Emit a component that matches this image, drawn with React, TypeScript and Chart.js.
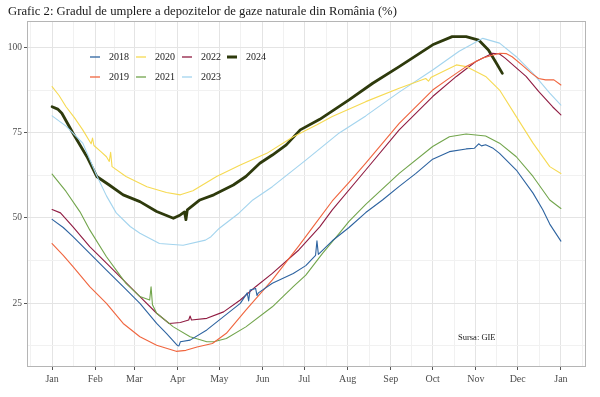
import { useEffect, useRef } from "react";
import { Chart, registerables } from "chart.js";
Chart.register(...registerables);

const titleText = "Grafic 2: Gradul de umplere a depozitelor de gaze naturale din România (%)";
const sourceText = "Sursa: GIE";
const monthBreaks = [0, 31, 59, 90, 120, 151, 181, 212, 243, 273, 304, 334, 365];
const monthLabels = ["Jan", "Feb", "Mar", "Apr", "May", "Jun", "Jul", "Aug", "Sep", "Oct", "Nov", "Dec", "Jan"];
const yBreaks = [25, 50, 75, 100];
const yMinorBreaks = [12.5, 37.5, 62.5, 87.5];
const years = ["2018", "2019", "2020", "2021", "2022", "2023", "2024"];

const s2018: [number, number][] = [[0,49.6],[8,47.2],[15,44.5],[27,39.6],[39,34.7],[51,29.8],[63,24.9],[75,19],[82,16.1],[90,12.5],[91,12.4],[92,13.6],[99,14.1],[111,17.1],[123,21],[135,24.9],[140,28],[141,25.6],[142,28.8],[146,29.3],[147,27.2],[148,28],[158,30.8],[173,33.7],[182,36],[189,39],[190,43.3],[191,39.3],[201,43.3],[213,47.2],[225,51.6],[237,55.3],[249,59.3],[261,63.1],[273,67.3],[285,69.5],[297,70.3],[303,70.5],[306,71.8],[308,71.2],[311,71.5],[316,70.6],[321,69],[333,64.1],[345,57.3],[352,52.4],[357,48.2],[365,43.2]];
const s2019: [number, number][] = [[0,42.5],[8,39],[15,35.7],[27,29.8],[39,24.9],[51,19],[63,15.1],[75,12.6],[89,10.8],[96,11.1],[104,12.1],[115,13.1],[125,16.1],[139,22.9],[158,31.8],[177,41.8],[187,47.3],[201,55],[213,60.5],[225,66.1],[249,77.8],[273,87.6],[285,91.1],[297,94.5],[309,97],[321,98.4],[326,98.3],[330,97.4],[337,95],[344,92.5],[349,91],[354,90.6],[360,90.6],[365,89.1]];
const s2020: [number, number][] = [[0,88.6],[5,86],[10,82.7],[16,79.5],[22,75.9],[28,71.8],[29,73.5],[30,71.3],[35,69.5],[39,68],[41,66.6],[42,69.3],[43,65.1],[53,62.2],[68,59.2],[82,57.5],[92,56.8],[101,58],[118,62.2],[135,65.6],[154,69],[173,73.9],[190,77.4],[201,79.8],[225,84.2],[249,88.1],[268,91],[270,90.2],[272,91.4],[290,95],[297,94.5],[311,91.6],[321,87.6],[333,79.8],[345,72],[357,65.1],[365,63.1]];
const s2021: [number, number][] = [[0,62.9],[10,57.8],[20,51.8],[27,46.5],[39,38.6],[49,33],[53,30.8],[63,26.9],[70,25.9],[71,29.8],[72,24.5],[75,22],[87,18],[99,15.1],[111,13.6],[116,13.6],[125,14.6],[139,18],[158,23.9],[173,29.8],[182,33.2],[194,39.6],[206,45.5],[213,49],[225,54],[249,63.1],[273,71],[285,73.9],[297,74.7],[311,74.1],[321,72],[333,68],[345,62.2],[357,55.3],[365,52.8]];
const s2022: [number, number][] = [[0,52.5],[6,51.5],[15,47.4],[27,41.6],[39,36.7],[51,31.8],[63,26.9],[75,22],[84,19],[92,19.3],[98,20],[99,21.2],[100,20],[111,20.5],[123,22.4],[135,25.9],[146,29.8],[158,33.7],[177,40.6],[192,47.4],[201,52.4],[225,64.1],[249,75.9],[273,85.7],[290,91.6],[304,96],[316,98.4],[321,98.2],[325,97],[340,91.6],[349,87.2],[359,82.7],[365,80.3]];
const s2023: [number, number][] = [[0,80],[10,77],[22,72],[32,62.5],[39,56.5],[46,51.5],[56,47.5],[63,45.5],[77,42.5],[94,42],[110,43.5],[114,44.5],[120,47],[134,51.4],[144,55.3],[158,59.2],[182,67],[206,75],[225,80],[249,87],[273,93.5],[292,99],[309,102.8],[321,101.4],[333,97.4],[345,92.5],[357,86.7],[365,83.2]];
const s2024: [number, number][] = [[0,82.7],[4,82],[7,80.8],[15,74.9],[25,68],[32,62.2],[41,59.7],[51,56.8],[63,54.8],[75,51.9],[87,49.9],[92,50.9],[95,51.8],[96,49.5],[97,52.4],[106,55.3],[116,56.8],[130,59.7],[139,62.2],[149,66.1],[158,68.5],[168,71.5],[178,75.9],[192,79],[213,84.7],[230,89.6],[249,94.5],[273,100.9],[287,103.3],[297,103.3],[306,102.3],[313,99.4],[318,96],[323,92.5]];

const seriesList = [s2018, s2019, s2020, s2021, s2022, s2023, s2024];
const colors = ["#2d63a0", "#f0653e", "#f6da52", "#72a54c", "#901c42", "#a3d4ee", "#2e3a0c"];
const widths = [1.1, 1.1, 1.1, 1.1, 1.1, 1.1, 2.8];

const FONT = "'Liberation Serif', 'DejaVu Serif', serif";

const decorPlugin = {
  id: "decor",
  beforeDraw(chart: any) {
    const { ctx } = chart;
    ctx.save();
    ctx.fillStyle = "#ffffff";
    ctx.fillRect(0, 0, chart.width, chart.height);
    ctx.fillStyle = "#1a1a1a";
    ctx.font = `12.7px ${FONT}`;
    ctx.textBaseline = "middle";
    ctx.textAlign = "left";
    ctx.fillText(titleText, 8, 12);
    ctx.restore();
  },
  afterDraw(chart: any) {
    const { ctx, chartArea } = chart;
    ctx.save();
    ctx.strokeStyle = "#b5b5b5";
    ctx.lineWidth = 1;
    ctx.strokeRect(chartArea.left + 0.5, chartArea.top + 0.5, chartArea.right - chartArea.left - 1, chartArea.bottom - chartArea.top - 1);
    const colX = [90, 136, 182, 227];
    const rowY = [57, 77];
    ctx.font = `10px ${FONT}`;
    ctx.textBaseline = "middle";
    ctx.textAlign = "left";
    chart.data.datasets.forEach((ds: any, i: number) => {
      const x = colX[Math.floor(i / 2)];
      const y = rowY[i % 2];
      ctx.strokeStyle = ds.borderColor;
      ctx.lineWidth = ds.borderWidth > 2 ? 3 : 1.3;
      ctx.beginPath();
      ctx.moveTo(x, y);
      ctx.lineTo(x + 10, y);
      ctx.stroke();
      ctx.fillStyle = "#1a1a1a";
      ctx.fillText(ds.label, x + 19, y + 0.5);
    });
    ctx.font = `8.5px ${FONT}`;
    ctx.fillStyle = "#1a1a1a";
    ctx.fillText(sourceText, 458, 338);
    ctx.restore();
  },
};

export default function App() {
  const ref = useRef<HTMLCanvasElement>(null);
  useEffect(() => {
    if (!ref.current) return;
    const xTicks: number[] = [];
    monthBreaks.forEach((m, i) => {
      if (i === 0) xTicks.push(m - (monthBreaks[1] - m) / 2);
      xTicks.push(m);
      if (i < monthBreaks.length - 1) xTicks.push((m + monthBreaks[i + 1]) / 2);
      else xTicks.push(m + (m - monthBreaks[i - 1]) / 2);
    });
    const yTicks = [...yMinorBreaks, ...yBreaks].sort((a, b) => a - b);
    const chart = new Chart(ref.current, {
      type: "line",
      data: {
        datasets: seriesList.map((s, i) => ({
          label: years[i],
          data: s.map(([x, y]) => ({ x, y })),
          borderColor: colors[i],
          backgroundColor: colors[i],
          borderWidth: widths[i],
          pointRadius: 0,
          tension: 0,
          borderJoinStyle: "round" as const,
          borderCapStyle: "round" as const,
        })),
      },
      options: {
        animation: false,
        responsive: false,
        devicePixelRatio: 1,
        layout: { padding: { top: 21, right: 14, left: 0, bottom: 0 } },
        plugins: { legend: { display: false }, tooltip: { enabled: false } },
        scales: {
          x: {
            type: "linear",
            min: -18,
            max: 383,
            afterFit: (s: any) => { s.height = 30; },
            afterBuildTicks: (s: any) => { s.ticks = xTicks.map((v) => ({ value: v })); },
            border: { display: false },
            grid: {
              color: (c: any) => (monthBreaks.includes(c.tick?.value) ? "#e4e4e4" : "#f1f1f1"),
              tickColor: (c: any) => (monthBreaks.includes(c.tick?.value) ? "#555" : "rgba(0,0,0,0)"),
              tickLength: 3,
              lineWidth: 1,
            },
            ticks: {
              autoSkip: false,
              maxRotation: 0,
              minRotation: 0,
              padding: 3,
              color: "#4d4d4d",
              font: { family: FONT, size: 10 },
              callback: (v: any) => {
                const idx = monthBreaks.indexOf(Number(v));
                return idx >= 0 ? monthLabels[idx] : "";
              },
            },
          },
          y: {
            type: "linear",
            min: 6.2,
            max: 107.9,
            afterFit: (s: any) => { s.width = 27; },
            afterBuildTicks: (s: any) => { s.ticks = yTicks.map((v) => ({ value: v })); },
            border: { display: false },
            grid: {
              color: (c: any) => (yBreaks.includes(c.tick?.value) ? "#e4e4e4" : "#f1f1f1"),
              tickColor: (c: any) => (yBreaks.includes(c.tick?.value) ? "#555" : "rgba(0,0,0,0)"),
              tickLength: 3,
              lineWidth: 1,
            },
            ticks: {
              autoSkip: false,
              padding: 2,
              color: "#4d4d4d",
              font: { family: FONT, size: 9.5 },
              callback: (v: any) => (yBreaks.includes(Number(v)) ? String(v) : ""),
            },
          },
        },
      },
      plugins: [decorPlugin],
    });
    return () => chart.destroy();
  }, []);
  return (
    <div style={{ position: "fixed", left: 0, top: 0, width: 600, height: 397, background: "#fff" }}>
      <canvas ref={ref} width={600} height={397} style={{ display: "block", width: 600, height: 397 }} />
    </div>
  );
}
